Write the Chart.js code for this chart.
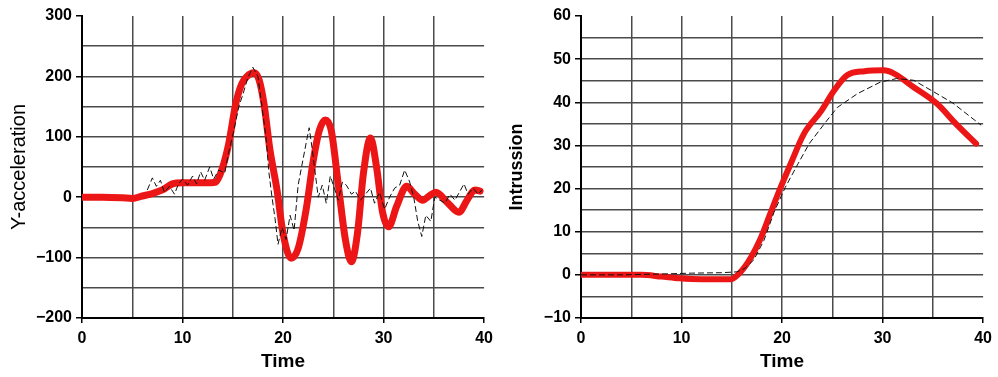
<!DOCTYPE html>
<html>
<head>
<meta charset="utf-8">
<script src="https://cdn.jsdelivr.net/npm/chart.js"></script>
<style>
    body { margin: 0; background: #fff; width: 998px; height: 377px; overflow: hidden; position: relative; }
    canvas { position: absolute; top: 0; }
    #accelChart { left: 0; }
    #intrusionChart { left: 499px; }
</style>
</head>
<body>
<canvas id="accelChart" width="499" height="377"></canvas>
<canvas id="intrusionChart" width="499" height="377"></canvas>
<script>
// --- DATA ---
// left: Y-acceleration, simulation (red) and test (black dashed)
const accelSimTime = [0, 2, 4, 5, 6, 7, 8, 9, 10, 11, 12, 12.8, 13.3, 13.9, 14.6, 15.3, 15.9, 16.4, 17.1, 17.6, 18.1, 18.7, 19.4, 20, 20.8, 21.5, 22.3, 23, 23.6, 24.2, 24.8, 25.5, 26.2, 26.8, 27.4, 28, 28.7, 29.3, 29.9, 30.5, 31.3, 32.3, 33.1, 33.9, 34.6, 35.2, 36.3, 37.5, 38.3, 39.1, 39.6];
const accelSimValue = [0, 0, -1, -2, 2, 6, 12, 22, 24, 24, 24, 24, 25, 45, 89, 155, 188, 200, 206, 195, 155, 78, 12, -60, -101, -85, -20, 60, 110, 128, 110, 20, -70, -107, -60, 40, 98, 50, -25, -49, -15, 18, 5, -5, 3, 8, -8, -25, -5, 12, 10];
const accelTestTime = [6.5, 7, 7.4, 7.8, 8.2, 8.7, 9.2, 9.6, 10, 10.5, 11, 11.4, 11.8, 12.2, 12.7, 13.1, 13.6, 14.2, 14.6, 15.1, 15.6, 16, 16.5, 17, 17.5, 17.9, 18.3, 18.6, 18.9, 19.2, 19.5, 19.9, 20.3, 20.7, 21.1, 21.5, 21.9, 22.3, 22.6, 22.9, 23.2, 23.5, 23.9, 24.3, 24.7, 25.1, 25.5, 25.9, 26.3, 26.8, 27.2, 27.7, 28.2, 28.7, 29.1, 29.6, 30.1, 30.6, 31.1, 31.6, 32.1, 32.6, 33, 33.4, 33.8, 34.2, 34.7, 35.1, 35.6, 36.1, 36.6, 37.1, 37.6, 38, 38.4, 38.9, 39.4, 39.8];
const accelTestValue = [12, 32, 18, 28, 8, 18, 5, 22, 30, 20, 35, 22, 42, 28, 50, 30, 45, 40, 75, 110, 150, 170, 198, 215, 200, 150, 100, 40, 0, -35, -78, -50, -70, -30, -55, 20, 55, 90, 115, 80, 40, 0, 20, -10, 35, 15, -5, 25, 20, 5, 10, -5, 5, 15, -10, 8, -20, 0, 15, 20, 45, 25, 0, -40, -65, -30, -40, 0, -5, -10, 5, -5, 10, 22, 5, 15, 5, 12];

// right: Intrussion
const intrSimTime = [0, 3, 6, 8, 9.8, 12, 14.9, 16, 16.9, 17.9, 18.8, 19.6, 20.9, 22.2, 23.9, 25.2, 26.5, 28.2, 30.1, 31.1, 33.1, 35.4, 37.3, 39.3];
const intrSimValue = [0, 0, 0, -0.4, -0.8, -1, -1, 1, 4, 8.6, 14, 18.8, 26, 32.8, 38, 42.8, 46.3, 47.2, 47.4, 46.7, 43.5, 39.7, 35, 30.4];
const intrTestTime = [0, 4, 8, 11, 14, 15.5, 16.3, 17.2, 18.2, 19.2, 20.3, 21.6, 22.7, 24.2, 25.5, 27.5, 29.8, 31.4, 33.1, 35.4, 37, 39.8];
const intrTestValue = [0, 0, 0.2, 0.4, 0.5, 0.7, 1.5, 3.5, 8, 14.5, 20.2, 25.8, 30.4, 35, 38.8, 42, 44.7, 45.5, 45.1, 42, 39.8, 34.7];

const xTickLabels = [0, 10, 20, 30, 40];
const accelTickLabels = [-200, -100, 0, 100, 200, 300];
const intrTickLabels = [-10, 0, 10, 20, 30, 40, 50, 60];

// --- HELPERS ---
const FONT = "'Liberation Sans', Arial, sans-serif";
const RED = 'rgb(236, 22, 22)';
const GRID = '#4a4a4a';

function points(xs, ys) {
    return xs.map((x, i) => ({ x: x, y: ys[i] }));
}

function label(v) {
    return v < 0 ? '\u2212' + Math.abs(v) : String(v);
}

function makeChart(id, cfg) {
    new Chart(document.getElementById(id), {
        type: 'line',
        data: {
            datasets: [{
                data: points(cfg.testX, cfg.testY),
                borderColor: '#111',
                borderWidth: 1,
                borderDash: [6, 3],
                pointRadius: 0,
                tension: 0
            }, {
                data: points(cfg.simX, cfg.simY),
                borderColor: RED,
                borderWidth: cfg.redWidth,
                borderCapStyle: 'round',
                borderJoinStyle: 'round',
                pointRadius: 0,
                cubicInterpolationMode: 'monotone'
            }]
        },
        options: {
            responsive: false,
            animation: false,
            devicePixelRatio: 1,
            layout: { padding: { top: 16, right: 11, left: 0, bottom: 0 } },
            plugins: { legend: { display: false }, tooltip: { enabled: false } },
            scales: {
                x: {
                    type: 'linear', min: 0, max: 40,
                    afterFit: s => { s.height = 59; },
                    ticks: {
                        stepSize: 5, padding: 6, color: '#000', maxRotation: 0, autoSkip: false,
                        font: { family: FONT, size: 16, weight: 'bold' },
                        callback: v => xTickLabels.includes(v) ? String(v) : ''
                    },
                    grid: {
                        tickLength: 5, lineWidth: 1.5,
                        color: c => c.tick && c.tick.value === 40 ? 'rgba(0,0,0,0)' : GRID,
                        tickColor: c => c.tick && xTickLabels.includes(c.tick.value) ? '#000' : 'rgba(0,0,0,0)'
                    },
                    border: { color: '#000', width: 2 },
                    title: { display: true, text: 'Time', color: '#000', padding: { top: 0, bottom: 4 },
                        font: { family: FONT, size: 19, weight: 'bold' } }
                },
                y: {
                    min: cfg.yMin, max: cfg.yMax,
                    afterFit: s => { s.width = 82; },
                    ticks: {
                        stepSize: cfg.yStep, padding: 4, color: '#000', autoSkip: false,
                        font: { family: FONT, size: 16, weight: 'bold' },
                        callback: v => cfg.yLabels.includes(v) ? label(v) : ''
                    },
                    grid: {
                        tickLength: 6, lineWidth: 1.5,
                        color: c => c.tick && c.tick.value === cfg.yMax ? 'rgba(0,0,0,0)' : GRID,
                        tickColor: c => c.tick && cfg.yLabels.includes(c.tick.value) ? '#000' : 'rgba(0,0,0,0)'
                    },
                    border: { color: '#000', width: 2 },
                    title: { display: true, text: cfg.yTitle, color: '#000', padding: { top: 7, bottom: 0 },
                        font: { family: FONT, size: cfg.titleSize, weight: cfg.titleWeight } }
                }
            }
        }
    });
}

makeChart('accelChart', {
    simX: accelSimTime, simY: accelSimValue,
    testX: accelTestTime, testY: accelTestValue,
    yMin: -200, yMax: 300, yStep: 50, yLabels: accelTickLabels,
    yTitle: 'Y-acceleration', titleSize: 20, titleWeight: 'normal', redWidth: 7
});

makeChart('intrusionChart', {
    simX: intrSimTime, simY: intrSimValue,
    testX: intrTestTime, testY: intrTestValue,
    yMin: -10, yMax: 60, yStep: 5, yLabels: intrTickLabels,
    yTitle: 'Intrussion', titleSize: 18, titleWeight: 'bold', redWidth: 6
});
</script>
</body>
</html>
